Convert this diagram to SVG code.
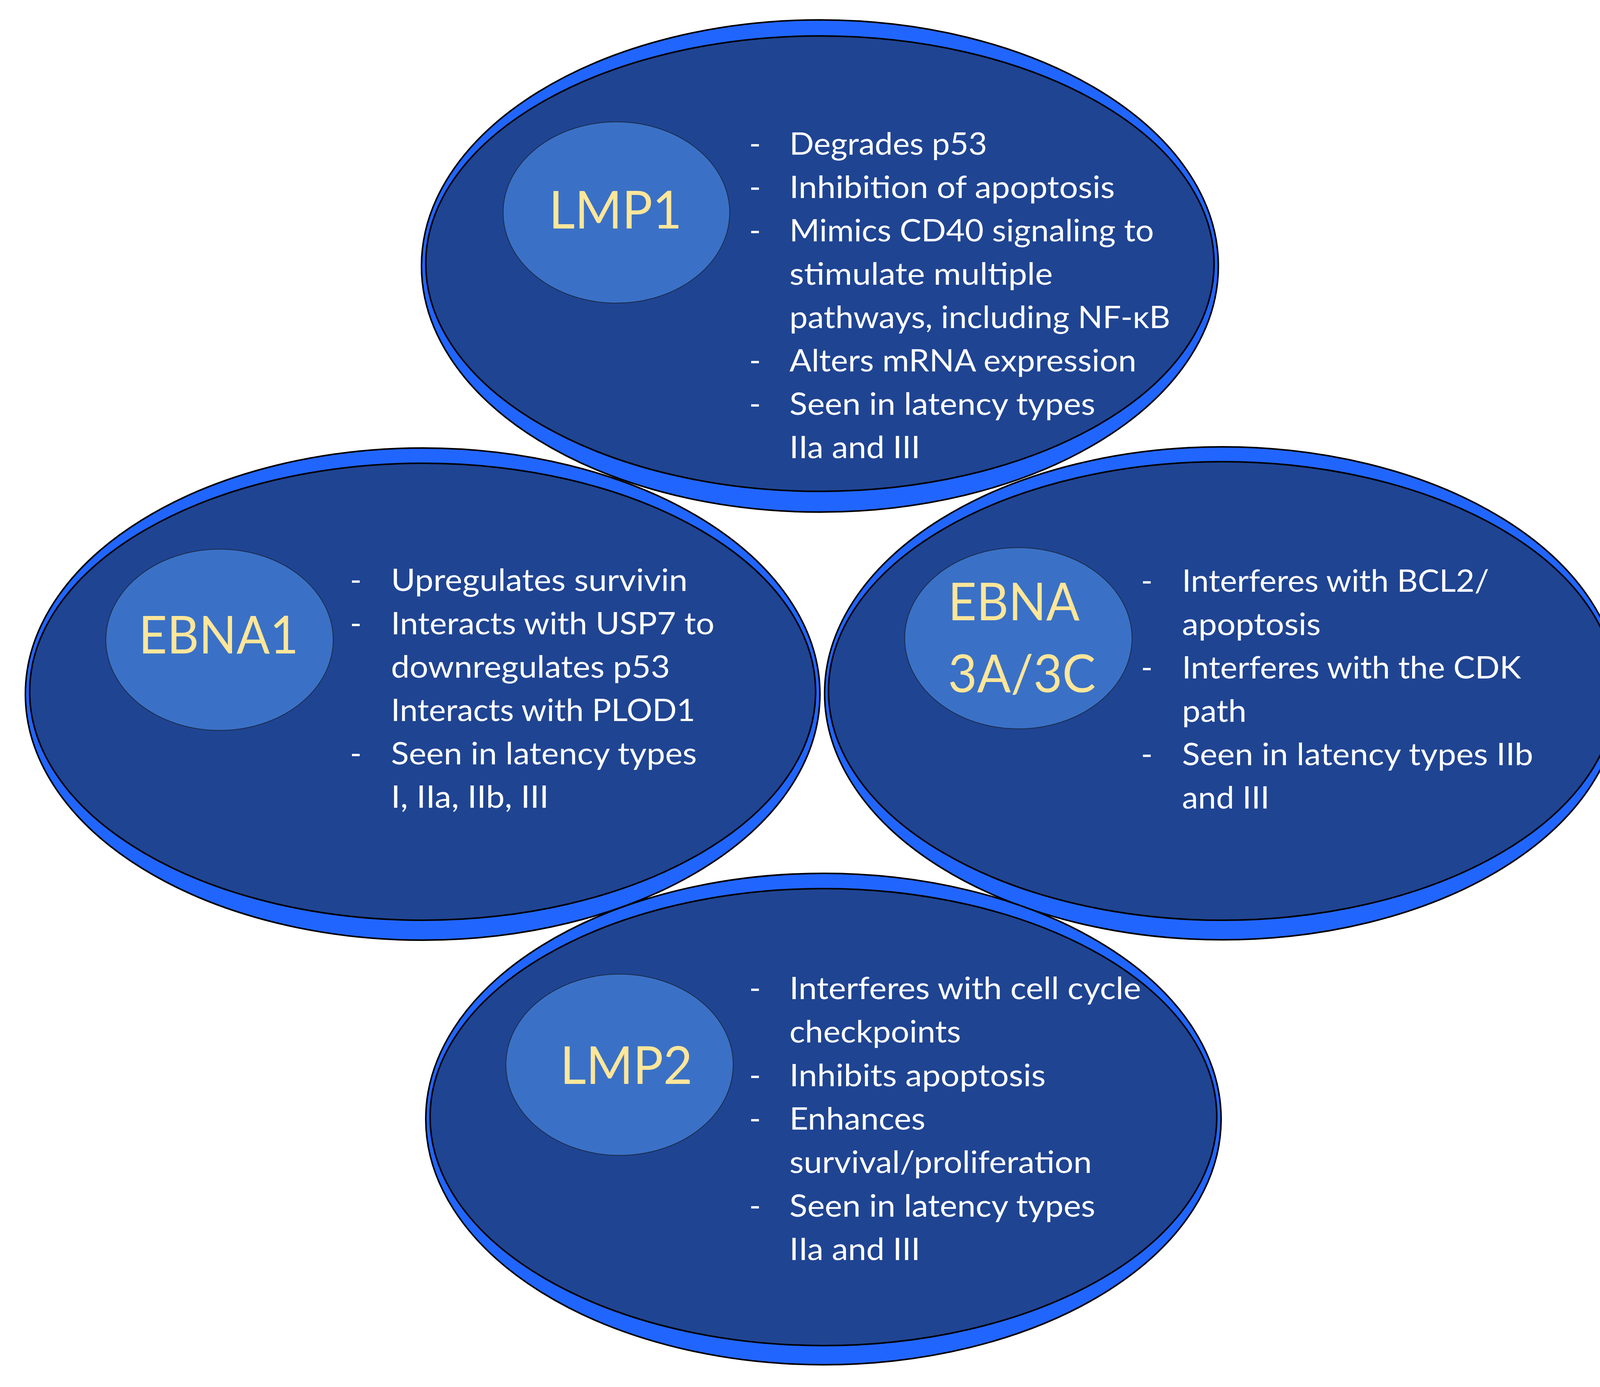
<svg xmlns="http://www.w3.org/2000/svg" width="4195" height="3551" viewBox="0 0 4195 3551">
<style>
.outer{fill:#2165FF;stroke:#000;stroke-width:4}
.inner{fill:#1F4492;stroke:#000;stroke-width:4}
.core{fill:#3A71C6;stroke:#1B2A4A;stroke-width:2}
.title{font-family:Lato,"Open Sans","Liberation Sans",sans-serif;font-size:133px;fill:#FFE699}
.body{font-family:Lato,"Open Sans","Liberation Sans",sans-serif;font-size:80px;fill:#FFFFFF}
</style>
<rect width="4195" height="3551" fill="#FFFFFF"/>
<g id="connectors"/>
<g id="node-ebna1">
<ellipse class="outer" cx="1082" cy="1777" rx="1017" ry="630"/>
<ellipse class="inner" cx="1082" cy="1771" rx="1006" ry="585"/>
<ellipse class="core" cx="562" cy="1638" rx="291" ry="232"/>
<text class="title" x="355" y="1673" textLength="409" lengthAdjust="spacingAndGlyphs">EBNA1</text>
<g class="body">
<text x="896" y="1513">-</text>
<text x="1001" y="1513" textLength="759" lengthAdjust="spacingAndGlyphs">Upregulates survivin</text>
<text x="896" y="1624">-</text>
<text x="1001" y="1624" textLength="828" lengthAdjust="spacingAndGlyphs">Interacts with USP7 to</text>
<text x="1001" y="1735" textLength="714" lengthAdjust="spacingAndGlyphs">downregulates p53</text>
<text x="1001" y="1846" textLength="779" lengthAdjust="spacingAndGlyphs">Interacts with PLOD1</text>
<text x="896" y="1957">-</text>
<text x="1001" y="1957" textLength="783" lengthAdjust="spacingAndGlyphs">Seen in latency types</text>
<text x="1001" y="2068" textLength="404" lengthAdjust="spacingAndGlyphs">I, IIa, IIb, III</text>
</g>
</g>
<g id="node-ebna3">
<ellipse class="outer" cx="3129" cy="1775" rx="1018" ry="631"/>
<ellipse class="inner" cx="3129" cy="1769" rx="1008" ry="587"/>
<ellipse class="core" cx="2607" cy="1634" rx="291" ry="232"/>
<text class="title" x="2427" y="1588" textLength="337" lengthAdjust="spacingAndGlyphs">EBNA</text>
<text class="title" x="2427" y="1772" textLength="378" lengthAdjust="spacingAndGlyphs">3A/3C</text>
<g class="body">
<text x="2921" y="1515">-</text>
<text x="3026" y="1515" textLength="786" lengthAdjust="spacingAndGlyphs">Interferes with BCL2/</text>
<text x="3026" y="1626" textLength="355" lengthAdjust="spacingAndGlyphs">apoptosis</text>
<text x="2921" y="1737">-</text>
<text x="3026" y="1737" textLength="868" lengthAdjust="spacingAndGlyphs">Interferes with the CDK</text>
<text x="3026" y="1848" textLength="165" lengthAdjust="spacingAndGlyphs">path</text>
<text x="2921" y="1959">-</text>
<text x="3026" y="1959" textLength="899" lengthAdjust="spacingAndGlyphs">Seen in latency types IIb</text>
<text x="3026" y="2070" textLength="224" lengthAdjust="spacingAndGlyphs">and III</text>
</g>
</g>
<g id="node-lmp2">
<ellipse class="outer" cx="2108" cy="2865" rx="1018" ry="629"/>
<ellipse class="inner" cx="2108" cy="2860" rx="1007" ry="585"/>
<ellipse class="core" cx="1586" cy="2726" rx="291" ry="232"/>
<text class="title" x="1434" y="2775" textLength="339" lengthAdjust="spacingAndGlyphs">LMP2</text>
<g class="body">
<text x="1918" y="2558">-</text>
<text x="2021" y="2558" textLength="900" lengthAdjust="spacingAndGlyphs">Interferes with cell cycle</text>
<text x="2021" y="2669" textLength="439" lengthAdjust="spacingAndGlyphs">checkpoints</text>
<text x="1918" y="2781">-</text>
<text x="2021" y="2781" textLength="656" lengthAdjust="spacingAndGlyphs">Inhibits apoptosis</text>
<text x="1918" y="2892">-</text>
<text x="2021" y="2892" textLength="348" lengthAdjust="spacingAndGlyphs">Enhances</text>
<text x="2021" y="3003" textLength="774" lengthAdjust="spacingAndGlyphs">survival/proliferation</text>
<text x="1918" y="3115">-</text>
<text x="2021" y="3115" textLength="783" lengthAdjust="spacingAndGlyphs">Seen in latency types</text>
<text x="2021" y="3226" textLength="335" lengthAdjust="spacingAndGlyphs">IIa and III</text>
</g>
</g>
<g id="node-lmp1">
<ellipse class="outer" cx="2099" cy="681" rx="1020" ry="630"/>
<ellipse class="inner" cx="2099" cy="675" rx="1009" ry="583"/>
<ellipse class="core" cx="1578" cy="544" rx="290" ry="232"/>
<text class="title" x="1405" y="585" textLength="341" lengthAdjust="spacingAndGlyphs">LMP1</text>
<g class="body">
<text x="1918" y="396">-</text>
<text x="2021" y="396" textLength="506" lengthAdjust="spacingAndGlyphs">Degrades p53</text>
<text x="1918" y="507">-</text>
<text x="2021" y="507" textLength="833" lengthAdjust="spacingAndGlyphs">Inhibition of apoptosis</text>
<text x="1918" y="618">-</text>
<text x="2021" y="618" textLength="933" lengthAdjust="spacingAndGlyphs">Mimics CD40 signaling to</text>
<text x="2021" y="729" textLength="674" lengthAdjust="spacingAndGlyphs">stimulate multiple</text>
<text x="2021" y="840" textLength="975" lengthAdjust="spacingAndGlyphs">pathways, including NF-κB</text>
<text x="1918" y="951">-</text>
<text x="2021" y="951" textLength="888" lengthAdjust="spacingAndGlyphs">Alters mRNA expression</text>
<text x="1918" y="1062">-</text>
<text x="2021" y="1062" textLength="783" lengthAdjust="spacingAndGlyphs">Seen in latency types</text>
<text x="2021" y="1173" textLength="335" lengthAdjust="spacingAndGlyphs">IIa and III</text>
</g>
</g>
</svg>
